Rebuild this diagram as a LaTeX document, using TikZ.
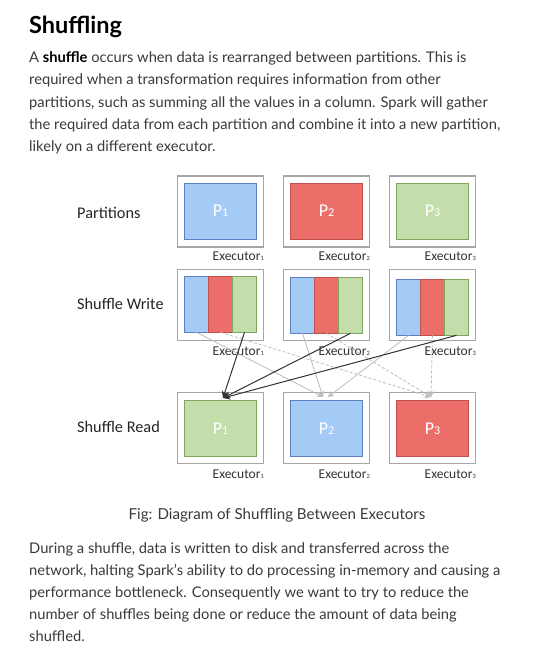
\documentclass[tikz,border=0pt]{standalone}
\usepackage{fontspec}
\setmainfont{Lato}
\newfontfamily\diagfont{Carlito}
\usetikzlibrary{arrows.meta}
\definecolor{pblue}{HTML}{A3CBF5}
\definecolor{pblueb}{HTML}{5B7FBF}
\definecolor{pred}{HTML}{EC6E69}
\definecolor{predb}{HTML}{C0504D}
\definecolor{pgreen}{HTML}{C3DEAB}
\definecolor{pgreenb}{HTML}{7EA65E}
\definecolor{bodytxt}{HTML}{3A3A3A}
\definecolor{boxgray}{HTML}{A6A6A6}
\definecolor{darkarrow}{HTML}{333333}
\definecolor{lightarrow}{HTML}{BDBDBD}
\newcommand{\ex}[1]{Executor{\fontsize{6.5}{7}\selectfont #1}}
\begin{document}
\begin{tikzpicture}[x=1pt,y=-1pt,
  body/.style={anchor=base west, inner sep=0, text=bodytxt, font=\fontsize{14.7}{18}\selectfont},
  outerbox/.style={draw=boxgray, line width=1.1pt, fill=white, minimum width=86pt, minimum height=71pt, inner sep=0},
  innerbox/.style={line width=0.7pt, minimum width=72pt, minimum height=56pt, inner sep=0, text=white, font=\diagfont\fontsize{18}{18}\selectfont},
  sect/.style={line width=0.7pt, minimum width=24pt, minimum height=56pt, inner sep=0},
  bluebox/.style={fill=pblue, draw=pblueb},
  redbox/.style={fill=pred, draw=predb},
  greenbox/.style={fill=pgreen, draw=pgreenb},
  rowlabel/.style={anchor=west, inner sep=0, font=\diagfont\fontsize{16.3}{18}\selectfont, text=black!85},
  exlabel/.style={anchor=base east, inner sep=0, font=\diagfont\fontsize{13.5}{14}\selectfont, text=black!80},
  darkarr/.style={draw=darkarrow, line width=1pt, -{Stealth[length=7pt,width=7pt]}},
  grayarr/.style={draw=lightarrow, line width=0.8pt, -{Stealth[length=6pt,width=6pt]}},
  dasharr/.style={draw=lightarrow, line width=0.8pt, dash pattern=on 3pt off 2pt, -{Stealth[length=6pt,width=6pt]}}
]
\useasboundingbox[fill=white] (0,0) rectangle (543,658);

% Title and first paragraph
\node[anchor=base west, inner sep=0, font=\bfseries\fontsize{23.5}{28}\selectfont, text=black] (title) at (29,34) {Shuffling};
\node[body] (p1) at (29,63) {A \textbf{\color{black}shuffle} occurs when data is rearranged between partitions. This is};
\node[body] (p2) at (29,85) {required when a transformation requires information from other};
\node[body] (p3) at (29,107) {partitions, such as summing all the values in a column. Spark will gather};
\node[body] (p4) at (29,129) {the required data from each partition and combine it into a new partition,};
\node[body] (p5) at (29,151) {likely on a different executor.};

% Row labels
\node[rowlabel] (lp) at (77,213) {Partitions};
\node[rowlabel] (lw) at (77,304) {Shuffle Write};
\node[rowlabel] (lr) at (77,427) {Shuffle Read};

% Row 1: partitions
\node[outerbox] (o11) at (220.5,211.5) {};
\node[outerbox] (o12) at (326.5,211.5) {};
\node[outerbox] (o13) at (432.5,211.5) {};
\node[innerbox,bluebox] (i11) at (220.5,211) {P{\fontsize{12}{12}\selectfont 1}};
\node[innerbox,redbox] (i12) at (326.5,211) {P{\fontsize{12}{12}\selectfont 2}};
\node[innerbox,greenbox] (i13) at (432.5,211) {P{\fontsize{12}{12}\selectfont 3}};
\node[exlabel] (e11) at (264,260) {\ex{1}};
\node[exlabel] (e12) at (370,260) {\ex{2}};
\node[exlabel] (e13) at (476,260) {\ex{3}};

% Row 2: shuffle write
\node[outerbox] (o21) at (220.5,305) {};
\node[outerbox] (o22) at (326.5,305) {};
\node[outerbox] (o23) at (432.5,305) {};
\foreach \c/\x/\y in {1/220.5/304, 2/326.5/305, 3/432.5/307} {
  \node[sect,bluebox] (w\c b) at (\x-24,\y) {};
  \node[sect,redbox] (w\c r) at (\x,\y) {};
  \node[sect,greenbox] (w\c g) at (\x+24,\y) {};
}
\node[exlabel] (e21) at (264,355) {\ex{1}};
\node[exlabel] (e22) at (370,355) {\ex{2}};
\node[exlabel] (e23) at (476,355) {\ex{3}};

% Row 3: shuffle read
\node[outerbox] (o31) at (220.5,428) {};
\node[outerbox] (o32) at (326.5,428) {};
\node[outerbox] (o33) at (432.5,428) {};
\node[innerbox,greenbox] (i31) at (220.5,428.5) {P{\fontsize{12}{12}\selectfont 1}};
\node[innerbox,bluebox] (i32) at (326.5,428.5) {P{\fontsize{12}{12}\selectfont 2}};
\node[innerbox,redbox] (i33) at (432.5,428.5) {P{\fontsize{12}{12}\selectfont 3}};
\node[exlabel] (e31) at (264,478) {\ex{1}};
\node[exlabel] (e32) at (370,478) {\ex{2}};
\node[exlabel] (e33) at (476,478) {\ex{3}};

% arrow targets
\coordinate (t1) at (223,398);
\coordinate (t2a) at (323,397);
\coordinate (t2b) at (328,397);
\coordinate (t3) at (431,397);

% light arrows (blue parts -> P2, red parts -> P3)
\draw[dasharr] (w1r.south) -- (t3);
\draw[dasharr] (w2r.south) -- (t3);
\draw[dasharr] (w3r.south) -- (t3);
\draw[grayarr] (w1b.south) -- (t2a);
\draw[grayarr] (w2b.south) -- (t2a);
\draw[grayarr] (w3b.south) -- (t2b);
% dark arrows (green parts -> P1)
\draw[darkarr] (w1g.south) -- (t1);
\draw[darkarr] (w2g.south) -- (t1);
\draw[darkarr] (w3g.south) -- (t1);

% caption
\node[anchor=base, inner sep=0, text=bodytxt, font=\fontsize{15.1}{18}\selectfont] (cap) at (277,519) {Fig: Diagram of Shuffling Between Executors};

% second paragraph
\node[body] (q1) at (29,553) {During a shuffle, data is written to disk and transferred across the};
\node[body] (q2) at (29,575) {network, halting Spark’s ability to do processing in-memory and causing a};
\node[body] (q3) at (29,597) {performance bottleneck. Consequently we want to try to reduce the};
\node[body] (q4) at (29,619) {number of shuffles being done or reduce the amount of data being};
\node[body] (q5) at (29,641) {shuffled.};
\end{tikzpicture}
\end{document}
